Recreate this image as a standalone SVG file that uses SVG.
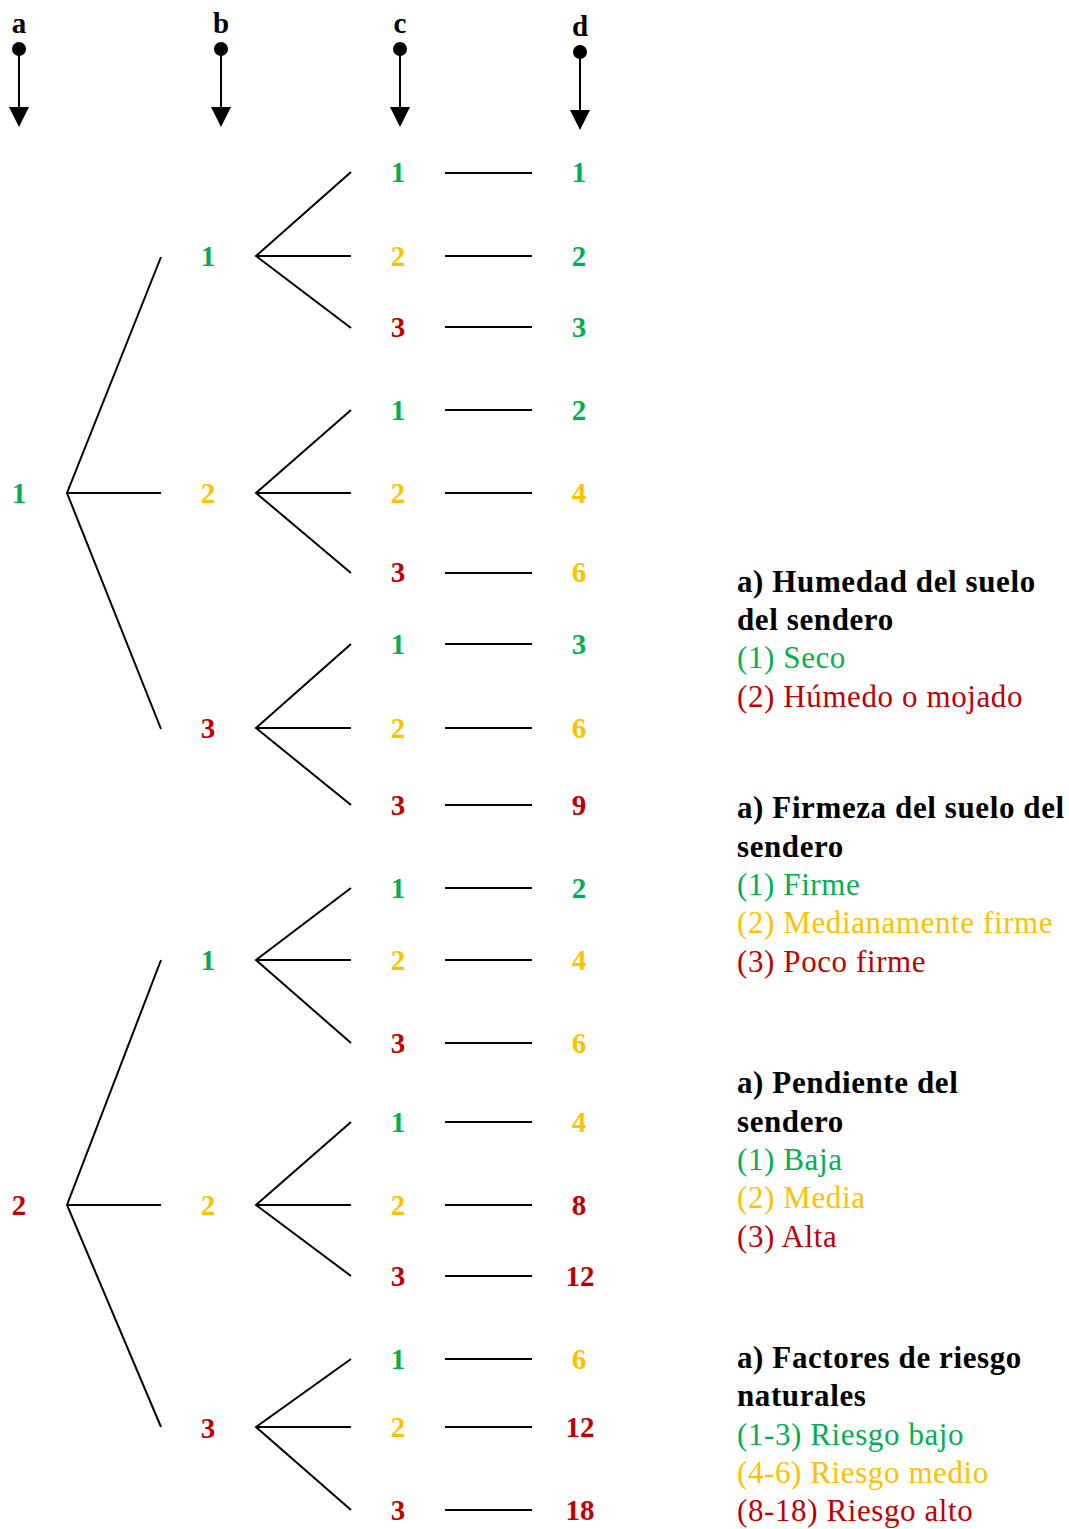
<svg xmlns="http://www.w3.org/2000/svg" width="1069" height="1529" viewBox="0 0 1069 1529">
<style>
.n{font-family:"Liberation Serif","Times New Roman",serif;font-weight:bold;font-size:29px;text-anchor:middle}
.h{font-family:"Liberation Serif","Times New Roman",serif;font-weight:bold;font-size:31px;letter-spacing:0.6px}
.t{font-family:"Liberation Serif","Times New Roman",serif;font-size:31px;letter-spacing:0.6px}
.g{fill:#00B050}.y{fill:#FFC000}.r{fill:#C00000}.k{fill:#000}
.ln{stroke:#000;stroke-width:2;fill:none}
</style>
<g id="headers">
<g id="hdr-a"><text class="n k" x="19" y="33">a</text><circle cx="19" cy="49" r="7"/><line class="ln" x1="19" y1="49" x2="19" y2="107"/><path d="M9,107 L29,107 L19,127 Z"/></g>
<g id="hdr-b"><text class="n k" x="221" y="33">b</text><circle cx="221" cy="49" r="7"/><line class="ln" x1="221" y1="49" x2="221" y2="107"/><path d="M211,107 L231,107 L221,127 Z"/></g>
<g id="hdr-c"><text class="n k" x="400" y="33">c</text><circle cx="400" cy="49" r="7"/><line class="ln" x1="400" y1="49" x2="400" y2="107"/><path d="M390,107 L410,107 L400,127 Z"/></g>
<g id="hdr-d"><text class="n k" x="580" y="36">d</text><circle cx="580" cy="52" r="7"/><line class="ln" x1="580" y1="52" x2="580" y2="110"/><path d="M570,110 L590,110 L580,130 Z"/></g>
</g>
<g id="connectors" class="ln">
<path d="M161,257 L67,493 L161,729 M67,493 H161"/>
<path d="M161,960 L67,1205 L161,1427 M67,1205 H161"/>
<path d="M351,172 L256,256 L351,328 M256,256 H351"/>
<path d="M351,410 L256,493 L351,573 M256,493 H351"/>
<path d="M351,644 L256,728 L351,805 M256,728 H351"/>
<path d="M351,888 L256,960 L351,1043 M256,960 H351"/>
<path d="M351,1122 L256,1205 L351,1276 M256,1205 H351"/>
<path d="M351,1359 L256,1427 L351,1510 M256,1427 H351"/>
<path d="M445,173 H532 M445,256 H532 M445,327 H532 M445,410 H532 M445,493 H532 M445,573 H532 M445,644 H532 M445,728 H532 M445,805 H532 M445,888 H532 M445,960 H532 M445,1043 H532 M445,1122 H532 M445,1205 H532 M445,1276 H532 M445,1359 H532 M445,1427 H532 M445,1510 H532"/>
</g>
<g id="level-a">
<text id="a1" class="n g" x="19" y="503">1</text>
<text id="a2" class="n r" x="19" y="1215">2</text>
</g>
<g id="level-b">
<text id="b11" class="n g" x="208" y="266">1</text>
<text id="b12" class="n y" x="208" y="503">2</text>
<text id="b13" class="n r" x="208" y="738">3</text>
<text id="b21" class="n g" x="208" y="970">1</text>
<text id="b22" class="n y" x="208" y="1215">2</text>
<text id="b23" class="n r" x="208" y="1438">3</text>
</g>
<g id="level-c">
<text class="n g" x="398" y="182">1</text><text class="n y" x="398" y="266">2</text><text class="n r" x="398" y="337">3</text>
<text class="n g" x="398" y="420">1</text><text class="n y" x="398" y="503">2</text><text class="n r" x="398" y="582">3</text>
<text class="n g" x="398" y="654">1</text><text class="n y" x="398" y="738">2</text><text class="n r" x="398" y="815">3</text>
<text class="n g" x="398" y="898">1</text><text class="n y" x="398" y="970">2</text><text class="n r" x="398" y="1053">3</text>
<text class="n g" x="398" y="1132">1</text><text class="n y" x="398" y="1215">2</text><text class="n r" x="398" y="1286">3</text>
<text class="n g" x="398" y="1369">1</text><text class="n y" x="398" y="1437">2</text><text class="n r" x="398" y="1520">3</text>
</g>
<g id="level-d">
<text class="n g" x="579" y="182">1</text><text class="n g" x="579" y="266">2</text><text class="n g" x="579" y="337">3</text>
<text class="n g" x="579" y="420">2</text><text class="n y" x="579" y="503">4</text><text class="n y" x="579" y="582">6</text>
<text class="n g" x="579" y="654">3</text><text class="n y" x="579" y="738">6</text><text class="n r" x="579" y="815">9</text>
<text class="n g" x="579" y="898">2</text><text class="n y" x="579" y="970">4</text><text class="n y" x="579" y="1053">6</text>
<text class="n y" x="579" y="1132">4</text><text class="n r" x="579" y="1215">8</text><text class="n r" x="580" y="1286">12</text>
<text class="n y" x="579" y="1369">6</text><text class="n r" x="580" y="1437">12</text><text class="n r" x="580" y="1520">18</text>
</g>
<g id="legend-humedad">
<text class="h k" x="737" y="592">a) Humedad del suelo</text>
<text class="h k" x="737" y="630">del sendero</text>
<text class="t g" x="737" y="668">(1) Seco</text>
<text class="t r" x="737" y="707">(2) Húmedo o mojado</text>
</g>
<g id="legend-firmeza">
<text class="h k" x="737" y="818">a) Firmeza del suelo del</text>
<text class="h k" x="737" y="857">sendero</text>
<text class="t g" x="737" y="895">(1) Firme</text>
<text class="t y" x="737" y="933">(2) Medianamente firme</text>
<text class="t r" x="737" y="972">(3) Poco firme</text>
</g>
<g id="legend-pendiente">
<text class="h k" x="737" y="1093">a) Pendiente del</text>
<text class="h k" x="737" y="1132">sendero</text>
<text class="t g" x="737" y="1170">(1) Baja</text>
<text class="t y" x="737" y="1208">(2) Media</text>
<text class="t r" x="737" y="1247">(3) Alta</text>
</g>
<g id="legend-riesgo">
<text class="h k" x="737" y="1368">a) Factores de riesgo</text>
<text class="h k" x="737" y="1406">naturales</text>
<text class="t g" x="737" y="1445">(1-3) Riesgo bajo</text>
<text class="t y" x="737" y="1483">(4-6) Riesgo medio</text>
<text class="t r" x="737" y="1521">(8-18) Riesgo alto</text>
</g>
</svg>
